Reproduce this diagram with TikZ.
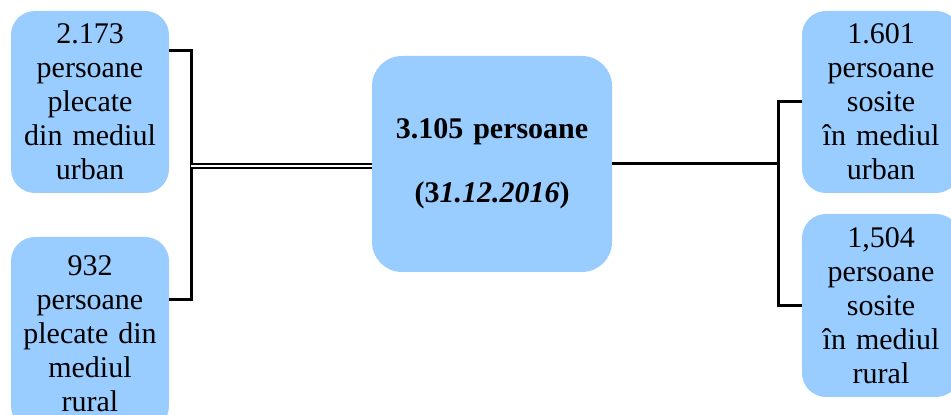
\documentclass[tikz,border=0pt]{standalone}
\usepackage{fontspec}
\setmainfont{Liberation Serif}
\newcommand\bWidth{79pt}
\newcommand\bHeigh{91pt}
\newcommand\tWidth{120pt}
\newcommand\tHeigh{108pt}
\definecolor{boxblue}{HTML}{99CCFF}
\tikzstyle{box} = [rectangle, rounded corners=12pt, fill=boxblue, minimum width=\bWidth, minimum height=\bHeigh, text width=72pt, align=center, font=\fontsize{15}{17}\selectfont]
\tikzstyle{total} = [box, rounded corners=15pt, minimum width=\tWidth, minimum height=\tHeigh, text width=110pt]
\tikzstyle{link} = [line width=1.5pt]
\tikzstyle{dlink} = [line width=1.2pt, double distance=0.8pt]

\begin{document}
\begin{tikzpicture} [node distance = 201pt]
\useasboundingbox (0,0) rectangle (475.5pt,207.5pt);
\node (total) [total] at (246pt,125.5pt) {\textbf{3.105 persoane}\\[15pt]\textbf{(3\textit{1.12.2016})}};
\node (urbOut) [box, left of = total, yshift=31pt] {2.173\\persoane\\plecate\\din mediul\\urban};
\node (rurOut) [box, left of = total, yshift=-84.75pt, minimum height=96.5pt] {932\\persoane\\plecate din\\mediul\\rural};
\node (urbIn) [box, right of = total, xshift=-6.5pt, yshift=31pt] {1.601\\persoane\\sosite\\în mediul\\urban};
\node (rurIn) [box, right of = total, xshift=-6.5pt, yshift=-70.75pt, minimum height=91.5pt] {1,504\\persoane\\sosite\\în mediul\\rural};
\coordinate (lj) at (95.5pt,124.5pt);
\coordinate (rj) at (389pt,125.5pt);

\draw [link] ([yshift=25.5pt]urbOut.east) -| (lj) |- ([yshift=16.75pt]rurOut.east);
\draw [dlink] (lj) -- (lj -| total.west);
\draw [link] (total.east) -- (rj);
\draw [link] (rj) |- (urbIn.west);
\draw [link] (rj) |- (rurIn.west);
\end{tikzpicture}
\end{document}
